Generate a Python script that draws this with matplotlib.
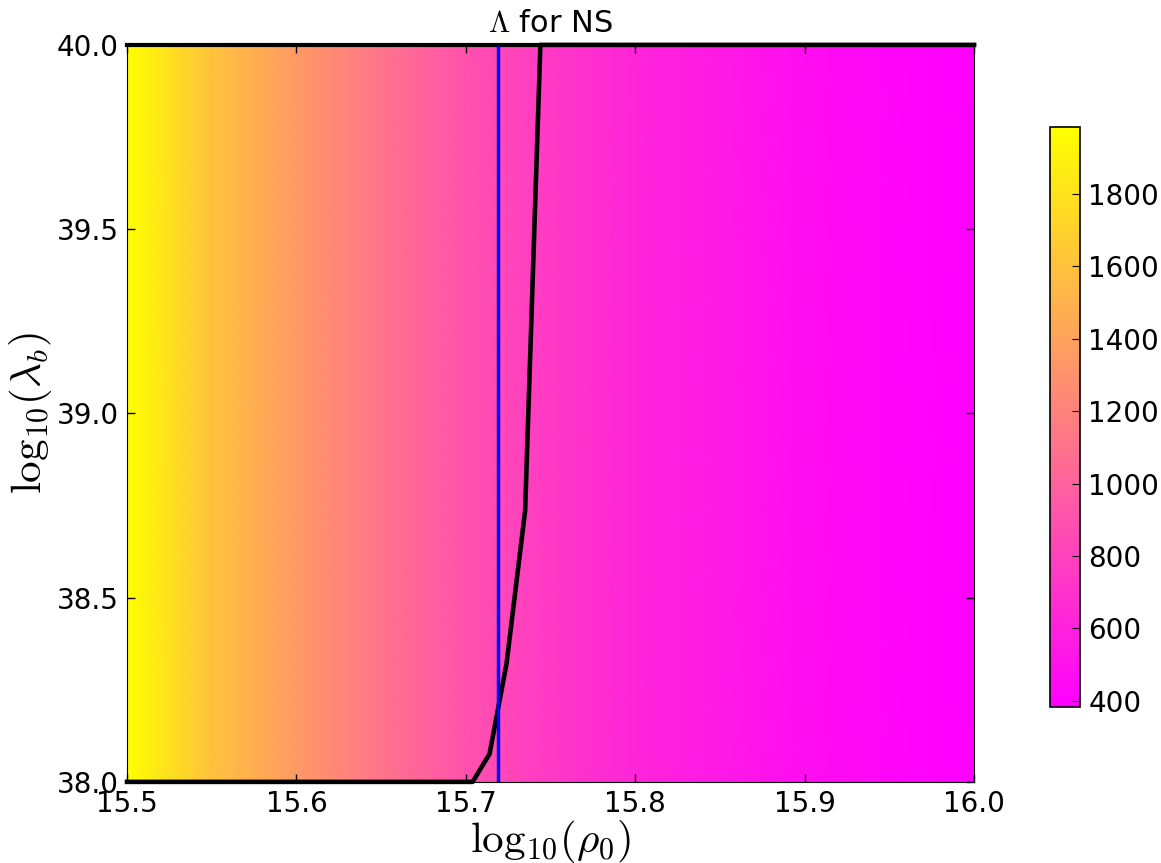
import numpy as np
import matplotlib
matplotlib.use("Agg")
import matplotlib.pyplot as plt

# Lambda (tidal deformability) vs log10(rho_0), flat in log10(lambda_b)
log_rho0 = [15.50, 15.55, 15.60, 15.65, 15.70, 15.75, 15.80, 15.85, 15.90, 15.95, 16.00]
log_lamb = [38.0, 40.0]
Lambda = [1985, 1600, 1350, 1110, 900, 740, 620, 540, 475, 425, 383]

# boundary curve
curve_x = [15.500, 15.704, 15.714, 15.724, 15.735, 15.744, 16.000]
curve_y = [38.000, 38.000, 38.076, 38.320, 38.736, 40.000, 40.000]
cap_x = [15.500, 15.744]
cap_y = [40.0, 40.0]

rho_line = 15.719

plt.rcParams['mathtext.fontset'] = 'cm'
plt.rcParams['font.family'] = 'DejaVu Sans'
plt.rcParams['xtick.direction'] = 'in'
plt.rcParams['ytick.direction'] = 'in'

fig = plt.figure(figsize=(11.61, 8.63), dpi=100)
ax = fig.add_axes([0.1094, 0.094, 0.7296, 0.854])
cax = fig.add_axes([0.9044, 0.1808, 0.0258, 0.672])

X, Y = np.meshgrid(log_rho0, log_lamb)
Z = np.tile(Lambda, (len(log_lamb), 1))
mesh = ax.pcolormesh(X, Y, Z, cmap='spring', shading='gouraud', vmin=383, vmax=1985)

ax.plot(curve_x, curve_y, color='black', lw=3.3, clip_on=False)
ax.plot(cap_x, cap_y, color='black', lw=3, clip_on=False)
ax.axvline(rho_line, color='blue', lw=2.5)

ax.set_xlim(15.5, 16.0)
ax.set_ylim(38.0, 40.0)
ax.set_xticks(np.arange(15.5, 16.01, 0.1))
ax.set_yticks(np.arange(38.0, 40.01, 0.5))
ax.xaxis.set_major_formatter(plt.FormatStrFormatter('%.1f'))
ax.yaxis.set_major_formatter(plt.FormatStrFormatter('%.1f'))
ax.tick_params(which='major', top=True, right=True, length=6, width=1, labelsize=20, pad=6)

ax.set_xlabel(r'$\mathrm{log}_{10}(\rho_0)$', fontsize=31, labelpad=0)
ax.set_ylabel(r'$\mathrm{log}_{10}(\lambda_b)$', fontsize=31, labelpad=2)
ax.set_title(r'$\Lambda$ for NS', fontsize=22, pad=9)

cb = fig.colorbar(mesh, cax=cax)
cb.set_ticks([400, 600, 800, 1000, 1200, 1400, 1600, 1800])
cb.ax.tick_params(direction='in', length=6, labelsize=20, pad=6)
cb.outline.set_linewidth(1.2)

plt.savefig('out.png', dpi=100)
